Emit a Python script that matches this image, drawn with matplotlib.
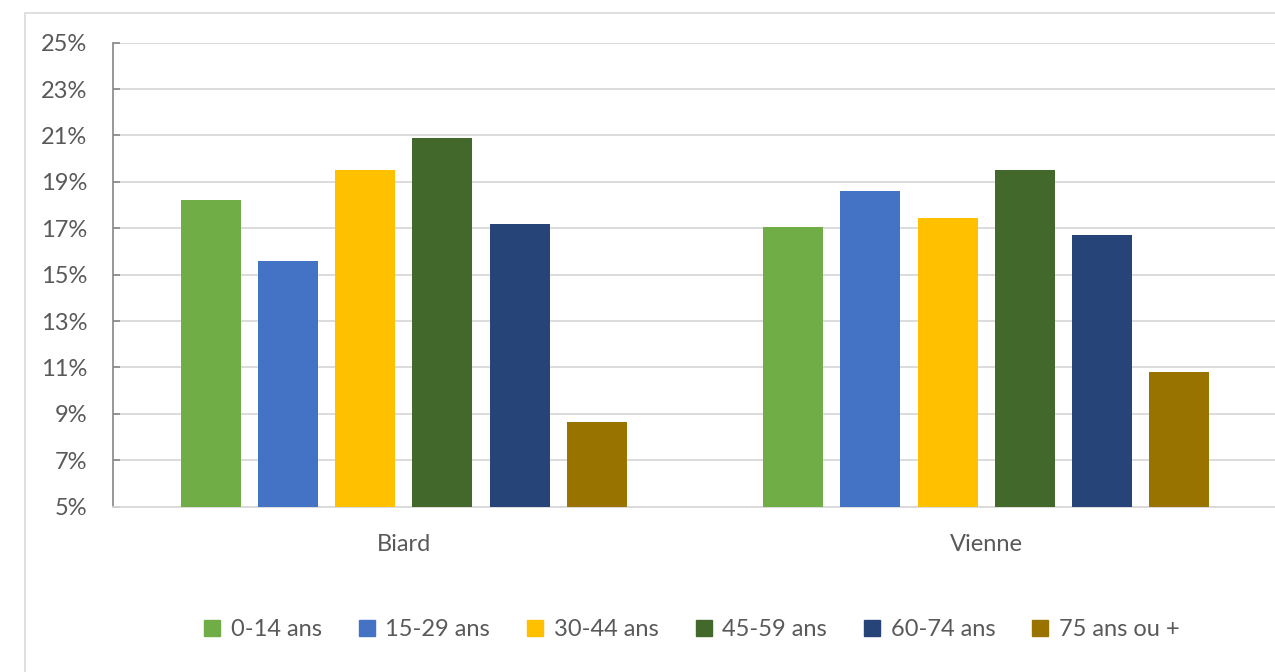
import numpy as np
import matplotlib.pyplot as plt
from matplotlib.lines import Line2D
from matplotlib.patches import Rectangle

communes = ['Biard', 'Vienne']
tranches = ['0-14 ans', '15-29 ans', '30-44 ans', '45-59 ans', '60-74 ans', '75 ans ou +']
biard = [18.2, 15.6, 19.5, 20.9, 17.2, 8.65]
vienne = [17.05, 18.6, 17.45, 19.5, 16.7, 10.8]
yticks = [5, 7, 9, 11, 13, 15, 17, 19, 21, 23, 25]

colors = ['#70AD47', '#4472C4', '#FFC000', '#43682B', '#264478', '#997300']
txt = '#595959'

plt.rcParams['font.family'] = ['Lato', 'DejaVu Sans']

fig = plt.figure(figsize=(12.75, 6.72), dpi=100)
ax = fig.add_axes([112.5/1275, 1-506.7/672, 1165/1275, (506.7-42.7)/672])

# cadre du graphique
fig.patches.append(Rectangle((25/1275, -0.1), 1.2, 1-13/672+0.1, transform=fig.transFigure,
                             fill=False, edgecolor='#d9d9d9', linewidth=1.2))

x = np.arange(len(communes))
step = 77.2/582.5
width = 60/582.5
vals = np.array([biard, vienne]).T
for i in range(len(tranches)):
    ax.bar(x + (i-2.5)*step, vals[i] - 5, width, bottom=5, color=colors[i], zorder=3)

ax.set_xlim(-0.5, 1.5)
ax.set_ylim(5, 25)
ax.set_yticks(yticks)
ax.set_yticklabels([f'{v}%' for v in yticks])
ax.set_xticks(x)
ax.set_xticklabels(communes)
ax.grid(axis='y', color='#d9d9d9', linewidth=1.3, zorder=0)
ax.tick_params(axis='y', direction='in', length=5, width=1.2, color='#868686', pad=18,
               labelsize=17, labelcolor=txt)
ax.tick_params(axis='x', length=0, pad=20, labelsize=17, labelcolor=txt)
for s in ['top', 'right']:
    ax.spines[s].set_visible(False)
ax.spines['left'].set_color('#868686')
ax.spines['left'].set_linewidth(1.2)
ax.spines['bottom'].set_color('#d9d9d9')
ax.spines['bottom'].set_linewidth(1.3)

handles = [Line2D([], [], marker='s', linestyle='none', markersize=11, color=c) for c in colors]
fig.legend(handles, tranches, loc='center', bbox_to_anchor=(690/1275, 1-630/672), ncol=6,
           frameon=False, fontsize=17, labelcolor=txt, handlelength=1, handletextpad=0.3,
           columnspacing=1.4)

fig.savefig('out.png', dpi=100)
